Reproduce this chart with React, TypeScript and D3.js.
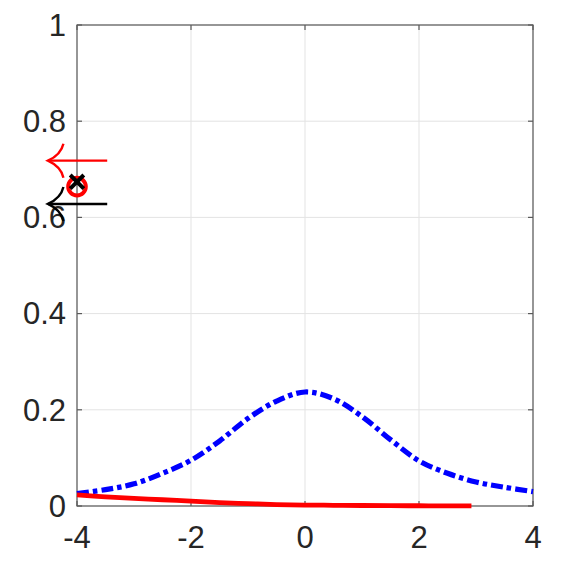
import React from "react";
import * as d3 from "d3";

const xTicks = [-4, -2, 0, 2, 4];
const yTicks = [0, 0.2, 0.4, 0.6, 0.8, 1];
const yTickLabels = ["0", "0.2", "0.4", "0.6", "0.8", "1"];

const blueX = [-4, -3.5, -3, -2.5, -2, -1.5, -1, -0.5, 0, 0.5, 1, 1.5, 2, 2.5, 3, 3.5, 4];
const blueY = [0.026, 0.034, 0.046, 0.068, 0.095, 0.135, 0.182, 0.218, 0.237, 0.223, 0.186, 0.138, 0.094, 0.068, 0.05, 0.039, 0.03];

const redX = [-4, -3.5, -3, -2.5, -2, -1.5, -1, -0.5, 0, 0.5, 1, 1.5, 2, 2.5, 2.92];
const redY = [0.023, 0.019, 0.016, 0.013, 0.01, 0.007, 0.005, 0.003, 0.002, 0.0015, 0.001, 0.0007, 0.0005, 0.0003, 0.0002];

const circleMarker = { x: -4, y: 0.664 };
const crossMarker = { x: -4, y: 0.674 };

// annotation arrows (data coordinates): tail -> tip
const arrowColors = ["#ff0000", "#000000"];
const arrowTailX = [-3.47, -3.47];
const arrowTipX = [-4.51, -4.51];
const arrowY = [0.718, 0.628];

const W = 571, H = 571;
const L = 77, R = 533, T = 25, B = 506;

export default function App() {
  const x = d3.scaleLinear().domain([-4, 4]).range([L, R]);
  const y = d3.scaleLinear().domain([0, 1]).range([B, T]);

  const line = d3
    .line<[number, number]>()
    .x((d) => x(d[0]))
    .y((d) => y(d[1]))
    .curve(d3.curveCatmullRom.alpha(0.5));

  const blue = blueX.map((v, i) => [v, blueY[i]] as [number, number]);
  const red = redX.map((v, i) => [v, redY[i]] as [number, number]);

  const textColor = "#262626";
  const axisColor = "#5a5a5a";
  const gridColor = "#e3e3e3";
  const font = "'Liberation Sans', Arial, Helvetica, sans-serif";
  const fs = 31;

  const cx = x(crossMarker.x), cy = y(crossMarker.y);
  const xs = 6.8;

  return (
    <svg
      width={W}
      height={H}
      style={{ position: "fixed", left: 0, top: 0, background: "#fff" }}
      viewBox={`0 0 ${W} ${H}`}
    >
      <rect x={0} y={0} width={W} height={H} fill="#fff" />
      {/* grid */}
      {xTicks.map((t) => (
        <line key={"gx" + t} x1={x(t)} x2={x(t)} y1={T} y2={B} stroke={gridColor} strokeWidth={1} />
      ))}
      {yTicks.map((t) => (
        <line key={"gy" + t} x1={L} x2={R} y1={y(t)} y2={y(t)} stroke={gridColor} strokeWidth={1} />
      ))}
      {/* axes box */}
      <rect x={L} y={T} width={R - L} height={B - T} fill="none" stroke={axisColor} strokeWidth={1.2} />
      {/* ticks */}
      {xTicks.map((t) => (
        <g key={"tx" + t}>
          <line x1={x(t)} x2={x(t)} y1={B} y2={B - 5} stroke={axisColor} strokeWidth={1.2} />
          <line x1={x(t)} x2={x(t)} y1={T} y2={T + 5} stroke={axisColor} strokeWidth={1.2} />
        </g>
      ))}
      {yTicks.map((t) => (
        <g key={"ty" + t}>
          <line x1={L} x2={L + 5} y1={y(t)} y2={y(t)} stroke={axisColor} strokeWidth={1.2} />
          <line x1={R} x2={R - 5} y1={y(t)} y2={y(t)} stroke={axisColor} strokeWidth={1.2} />
        </g>
      ))}
      {/* curves */}
      <path d={line(blue) || ""} fill="none" stroke="#0000ff" strokeWidth={5.2} strokeDasharray="12,4,4.5,4" />
      <path d={line(red) || ""} fill="none" stroke="#ff0000" strokeWidth={4.8} />
      {/* markers */}
      <circle cx={x(circleMarker.x)} cy={y(circleMarker.y)} r={8.8} fill="none" stroke="#ff0000" strokeWidth={4} />
      <g stroke="#000" strokeWidth={4}>
        <line x1={cx - xs} y1={cy - xs} x2={cx + xs} y2={cy + xs} />
        <line x1={cx - xs} y1={cy + xs} x2={cx + xs} y2={cy - xs} />
      </g>
      {/* tick labels */}
      {xTicks.map((t) => (
        <text
          key={"lx" + t}
          x={x(t)}
          y={B + 42}
          textAnchor="middle"
          fontFamily={font}
          fontSize={fs}
          fill={textColor}
        >
          {String(t)}
        </text>
      ))}
      {yTicks.map((t, i) => (
        <text
          key={"ly" + t}
          x={L - 11}
          y={y(t)}
          dy="0.35em"
          textAnchor="end"
          fontFamily={font}
          fontSize={fs}
          fill={textColor}
        >
          {yTickLabels[i]}
        </text>
      ))}
      {/* annotation arrows */}
      {arrowY.map((ay, i) => {
        const tx = x(arrowTipX[i]);
        const ty = y(ay);
        const sx = x(arrowTailX[i]);
        const hl = 15.5, hw = 17;
        const head = `M${tx + hl},${ty - hw} Q${tx + 13},${ty - 6} ${tx},${ty} Q${tx + 13},${ty + 6} ${tx + hl},${ty + hw}`;
        return (
          <g key={"ar" + i} fill="none" stroke={arrowColors[i]} strokeWidth={2.4}>
            <line x1={sx} y1={ty} x2={tx} y2={ty} />
            <path d={head} />
          </g>
        );
      })}
    </svg>
  );
}
